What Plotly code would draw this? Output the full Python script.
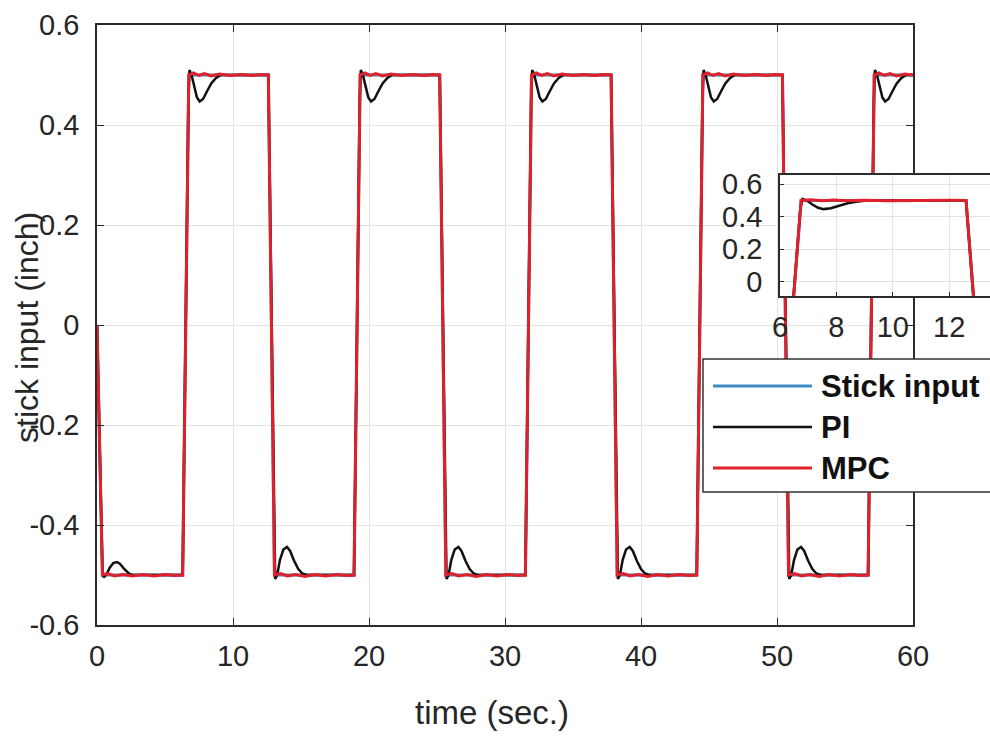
import plotly.graph_objects as go

# ---------------- data ----------------
stick_t = [0, 0.4, 6.3, 6.75, 12.6, 13.05, 18.9, 19.35, 25.2, 25.65, 31.5, 31.95,
           37.8, 38.25, 44.1, 44.55, 50.4, 50.85, 56.7, 57.15, 60]
stick_v = [0, -0.5, -0.5, 0.5, 0.5, -0.5, -0.5, 0.5, 0.5, -0.5, -0.5, 0.5,
           0.5, -0.5, -0.5, 0.5, 0.5, -0.5, -0.5, 0.5, 0.5]

pi_t = [0, 0.4, 0.5, 0.7, 0.95, 1.2, 1.47, 1.7, 2.0, 2.3, 2.6,
        6.3, 6.72, 6.8, 6.95, 7.15, 7.35, 7.55, 7.8, 8.1, 8.4, 8.75, 9.1,
        12.6, 13.02, 13.1, 13.25, 13.45, 13.7, 13.97, 14.2, 14.5, 14.8, 15.1, 15.4,
        18.9, 19.32, 19.4, 19.55, 19.75, 19.95, 20.15, 20.4, 20.7, 21.0, 21.35, 21.7,
        25.2, 25.62, 25.7, 25.85, 26.05, 26.3, 26.57, 26.8, 27.1, 27.4, 27.7, 28.0,
        31.5, 31.92, 32.0, 32.15, 32.35, 32.55, 32.75, 33.0, 33.3, 33.6, 33.95, 34.3,
        37.8, 38.22, 38.3, 38.45, 38.65, 38.9, 39.17, 39.4, 39.7, 40.0, 40.3, 40.6,
        44.1, 44.52, 44.6, 44.75, 44.95, 45.15, 45.35, 45.6, 45.9, 46.2, 46.55, 46.9,
        50.4, 50.82, 50.9, 51.05, 51.25, 51.5, 51.77, 52.0, 52.3, 52.6, 52.9, 53.2,
        56.7, 57.12, 57.2, 57.35, 57.55, 57.75, 57.95, 58.2, 58.5, 58.8, 59.15, 59.5, 60]
pi_v = [0, -0.49, -0.505, -0.498, -0.485, -0.476, -0.474, -0.478, -0.488, -0.496, -0.5,
        -0.5, 0.45, 0.51, 0.50, 0.475, 0.455, 0.447, 0.452, 0.468, 0.483, 0.494, 0.5,
        0.5, -0.45, -0.508, -0.50, -0.47, -0.449, -0.444, -0.452, -0.472, -0.488, -0.497, -0.5,
        -0.5, 0.45, 0.51, 0.50, 0.475, 0.455, 0.447, 0.452, 0.468, 0.483, 0.494, 0.5,
        0.5, -0.45, -0.508, -0.50, -0.47, -0.449, -0.444, -0.452, -0.472, -0.488, -0.497, -0.5,
        -0.5, 0.45, 0.51, 0.50, 0.475, 0.455, 0.447, 0.452, 0.468, 0.483, 0.494, 0.5,
        0.5, -0.45, -0.508, -0.50, -0.47, -0.449, -0.444, -0.452, -0.472, -0.488, -0.497, -0.5,
        -0.5, 0.45, 0.51, 0.50, 0.475, 0.455, 0.447, 0.452, 0.468, 0.483, 0.494, 0.5,
        0.5, -0.45, -0.508, -0.50, -0.47, -0.449, -0.444, -0.452, -0.472, -0.488, -0.497, -0.5,
        -0.5, 0.45, 0.51, 0.50, 0.475, 0.455, 0.447, 0.452, 0.468, 0.483, 0.494, 0.5, 0.5]

mpc_t = [0, 0.4, 0.8, 1.3, 1.9, 2.6, 3.4, 4.2, 5.0, 5.7, 6.3,
         6.75, 7.1, 7.5, 7.9, 8.4, 9.0, 9.8, 10.6, 11.4, 12.1, 12.6,
         13.05, 13.5, 14.0, 14.6, 15.3, 16.0, 16.8, 17.6, 18.3, 18.9,
         19.35, 19.7, 20.1, 20.5, 21.0, 21.6, 22.4, 23.2, 24.0, 24.7, 25.2,
         25.65, 26.1, 26.6, 27.2, 27.9, 28.6, 29.4, 30.2, 30.9, 31.5,
         31.95, 32.3, 32.7, 33.1, 33.6, 34.2, 35.0, 35.8, 36.6, 37.3, 37.8,
         38.25, 38.7, 39.2, 39.8, 40.5, 41.2, 42.0, 42.8, 43.5, 44.1,
         44.55, 44.9, 45.3, 45.7, 46.2, 46.8, 47.6, 48.4, 49.2, 49.9, 50.4,
         50.85, 51.3, 51.8, 52.4, 53.1, 53.8, 54.6, 55.4, 56.1, 56.7,
         57.15, 57.5, 57.9, 58.3, 58.8, 59.4, 60]
mpc_v = [0, -0.5, -0.497, -0.502, -0.499, -0.502, -0.499, -0.502, -0.499, -0.501, -0.5,
         0.5, 0.504, 0.499, 0.503, 0.498, 0.502, 0.499, 0.501, 0.499, 0.501, 0.5,
         -0.5, -0.497, -0.502, -0.499, -0.503, -0.499, -0.502, -0.499, -0.501, -0.5,
         0.5, 0.504, 0.499, 0.503, 0.498, 0.502, 0.499, 0.501, 0.499, 0.501, 0.5,
         -0.5, -0.497, -0.502, -0.499, -0.503, -0.499, -0.502, -0.499, -0.501, -0.5,
         0.5, 0.504, 0.499, 0.503, 0.498, 0.502, 0.499, 0.501, 0.499, 0.501, 0.5,
         -0.5, -0.497, -0.502, -0.499, -0.503, -0.499, -0.502, -0.499, -0.501, -0.5,
         0.5, 0.504, 0.499, 0.503, 0.498, 0.502, 0.499, 0.501, 0.499, 0.501, 0.5,
         -0.5, -0.497, -0.502, -0.499, -0.503, -0.499, -0.502, -0.499, -0.501, -0.5,
         0.5, 0.504, 0.499, 0.503, 0.498, 0.502, 0.5]

series_names = ["Stick input", "PI", "MPC"]
series_colors = ["#3f8cc4", "#111111", "#e0202a"]
series_widths = [3, 2.5, 3]

x_ticks = [0, 10, 20, 30, 40, 50, 60]
x_ticklabels = ["0", "10", "20", "30", "40", "50", "60"]
y_ticks = [-0.6, -0.4, -0.2, 0, 0.2, 0.4, 0.6]
y_ticklabels = ["-0.6", "-0.4", "-0.2", "0", "0.2", "0.4", "0.6"]
inset_x_ticks = [6, 8, 10, 12]
inset_x_ticklabels = ["6", "8", "10", "12"]
inset_y_ticks = [0, 0.2, 0.4, 0.6]
inset_y_ticklabels = ["0", "0.2", "0.4", "0.6"]
inset_x_range = [6, 13.45]
inset_y_range = [-0.088, 0.657]

# ---------------- figure ----------------
W, H = 990, 740
FONT = "Liberation Sans, Arial, sans-serif"
TXT = "#262626"
AX = "#2b2b2b"
GRID = "#e3e3e3"

def px_x(p):
    return p / W

def px_y(p):
    return 1 - p / H

fig = go.Figure()
data = [(stick_t, stick_v), (pi_t, pi_v), (mpc_t, mpc_v)]
for (t, v), name, col, lw in zip(data, series_names, series_colors, series_widths):
    fig.add_trace(go.Scatter(x=t, y=v, mode="lines", name=name, showlegend=False,
                             line=dict(color=col, width=lw), xaxis="x", yaxis="y"))
for (t, v), name, col, lw in zip(data, series_names, series_colors, series_widths):
    fig.add_trace(go.Scatter(x=t, y=v, mode="lines", name=name, showlegend=False,
                             line=dict(color=col, width=lw), xaxis="x2", yaxis="y2"))

tickfont = dict(family=FONT, size=29, color=TXT)

fig.update_layout(
    width=W, height=H,
    margin=dict(l=0, r=0, t=0, b=0, autoexpand=False),
    paper_bgcolor="white", plot_bgcolor="white",
    showlegend=False,
    xaxis=dict(domain=[px_x(97), px_x(913)], range=[0, 60], tickvals=x_ticks, ticktext=x_ticklabels,
               showline=True, linecolor=AX, linewidth=1.5, mirror="ticks",
               ticks="inside", ticklen=7, tickcolor=AX, tickwidth=1.2,
               showgrid=True, gridcolor=GRID, gridwidth=1, zeroline=False, automargin=False,
               tickfont=tickfont, ticklabelstandoff=4, anchor="y"),
    yaxis=dict(domain=[px_y(625), px_y(25)], range=[-0.6, 0.6], tickvals=y_ticks, ticktext=y_ticklabels,
               showline=True, linecolor=AX, linewidth=1.5, mirror="ticks",
               ticks="inside", ticklen=7, tickcolor=AX, tickwidth=1.2,
               showgrid=True, gridcolor=GRID, gridwidth=1, zeroline=False, automargin=False,
               tickfont=tickfont, ticklabelstandoff=10, anchor="x"),
    xaxis2=dict(domain=[px_x(780), 1.0], range=inset_x_range, tickvals=inset_x_ticks, ticktext=inset_x_ticklabels,
                showline=True, linecolor=AX, linewidth=1.5, mirror=True,
                ticks="inside", ticklen=4, tickcolor=AX,
                showgrid=True, gridcolor=GRID, gridwidth=1, zeroline=False, automargin=False,
                tickfont=tickfont, ticklabelstandoff=4, anchor="y2"),
    yaxis2=dict(domain=[px_y(296), px_y(175)], range=inset_y_range, tickvals=inset_y_ticks, ticktext=inset_y_ticklabels,
                showline=True, linecolor=AX, linewidth=1.5, mirror=False,
                ticks="inside", ticklen=4, tickcolor=AX,
                showgrid=True, gridcolor=GRID, gridwidth=1, zeroline=False, automargin=False,
                tickfont=tickfont, ticklabelstandoff=10, anchor="x2"),
)

shapes = [
    # white background of inset, drawn in the inset subplot layer (covers main plot)
    dict(type="rect", xref="x2", yref="y2", x0=inset_x_range[0], x1=inset_x_range[1],
         y0=inset_y_range[0], y1=inset_y_range[1], layer="below",
         fillcolor="white", line=dict(width=0)),
    # legend box
    dict(type="rect", xref="paper", yref="paper", x0=px_x(703), x1=px_x(1000),
         y0=px_y(492), y1=px_y(359), layer="above",
         fillcolor="white", line=dict(color="#333333", width=1.5)),
]
annotations = []
legend_rows = [386, 427, 468]
for name, col, lw, yy in zip(series_names, series_colors, series_widths, legend_rows):
    shapes.append(dict(type="line", xref="paper", yref="paper", x0=px_x(713), x1=px_x(812),
                       y0=px_y(yy), y1=px_y(yy), layer="above", line=dict(color=col, width=lw)))
    annotations.append(dict(xref="paper", yref="paper", x=px_x(819), y=px_y(yy), text="<b>%s</b>" % name,
                            showarrow=False, xanchor="left", yanchor="middle",
                            font=dict(family=FONT, size=31, color="#111111")))

annotations.append(dict(xref="paper", yref="paper", x=px_x(492), y=px_y(712), text="time (sec.)",
                        showarrow=False, xanchor="center", yanchor="middle",
                        font=dict(family=FONT, size=33, color=TXT)))
annotations.append(dict(xref="paper", yref="paper", x=px_x(27), y=px_y(328), text="stick input (inch)",
                        showarrow=False, xanchor="center", yanchor="middle", textangle=-90,
                        font=dict(family=FONT, size=32, color=TXT)))

fig.update_layout(shapes=shapes, annotations=annotations)
fig.write_html("out.html")
